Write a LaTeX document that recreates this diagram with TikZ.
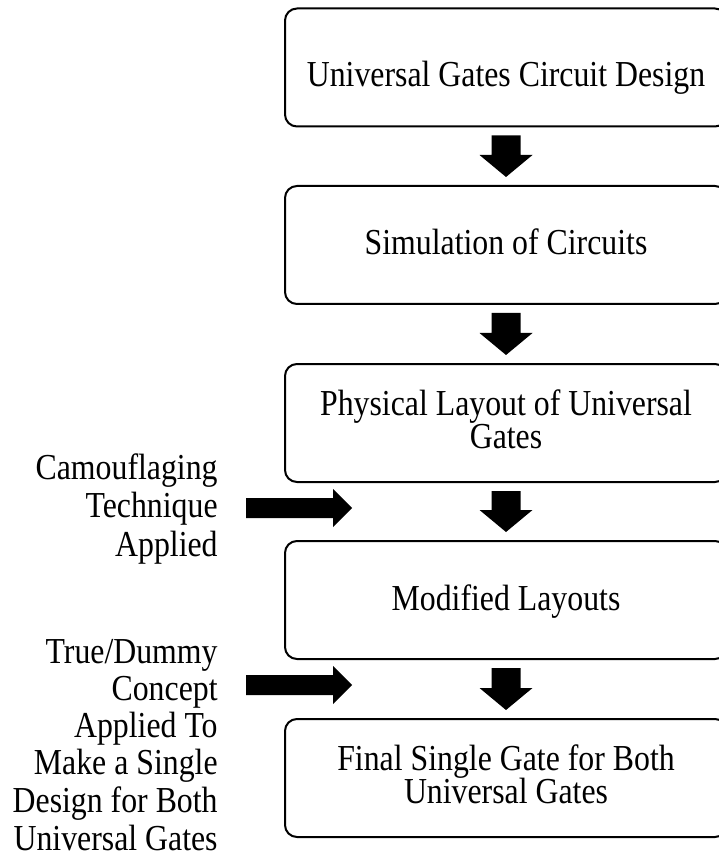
\documentclass[tikz,border=0pt]{standalone}
\usepackage{fontspec}
\usepackage{graphicx}
\setmainfont{Liberation Serif}
\usetikzlibrary{calc}
\newcommand{\blkdown}[2]{%
  \fill[black] ($(#1.south)+(-14.5,8)$) -- ($(#1.south)+(14.5,8)$)
    -- ($(#2.north)+(14.5,-30)$) -- ($(#2.north)+(26.5,-30)$)
    -- ($(#2.north)+(0,-8)$) -- ($(#2.north)+(-26.5,-30)$)
    -- ($(#2.north)+(-14.5,-30)$) -- cycle;}
\newcommand{\blkright}[2]{%
  \fill[black] ($(#1)+(0,-10)$) -- ($(#2)+(-19,-10)$) -- ($(#2)+(-19,-19)$)
    -- (#2) -- ($(#2)+(-19,19)$) -- ($(#2)+(-19,10)$) -- ($(#1)+(0,10)$) -- cycle;}
\newcommand{\tall}[1]{\scalebox{1}[1.15]{#1}}
\begin{document}
\begin{tikzpicture}[x=0.5pt,y=-0.5pt,
  box/.style={draw, line width=1pt, rounded corners=6pt, minimum width=221pt,
    minimum height=59pt, inner sep=0pt},
  boxtext/.style={font=\fontsize{15.9pt}{16.5pt}\selectfont, anchor=base, inner sep=0pt},
  sidetext/.style={font=\fontsize{15.9pt}{18.8pt}\selectfont, anchor=base east, inner sep=0pt}]
\useasboundingbox (0,0) rectangle (718,865);
% boxes
\node[box] (b1) at (506,67.5) {};
\node[box] (b2) at (506,245) {};
\node[box] (b3) at (506,423) {};
\node[box] (b4) at (506,600) {};
\node[box] (b5) at (506,778) {};
% box texts
\node[boxtext] (t1) at (506,87) {\tall{Universal Gates Circuit Design}};
\node[boxtext] (t2) at (506,255) {\tall{Simulation of Circuits}};
\node[boxtext] (t3a) at (506,415) {\tall{Physical Layout of Universal}};
\node[boxtext] (t3b) at (506,448) {\tall{Gates}};
\node[boxtext] (t4) at (506,610) {\tall{Modified Layouts}};
\node[boxtext] (t5a) at (506,770) {\tall{Final Single Gate for Both}};
\node[boxtext] (t5b) at (506,803) {\tall{Universal Gates}};
% side texts
\node[sidetext] (s1a) at (218,479) {\tall{Camouflaging}};
\node[sidetext] (s1b) at (218,517) {\tall{Technique}};
\node[sidetext] (s1c) at (218,556) {\tall{Applied}};
\node[sidetext] (s2a) at (218,663) {\tall{True/Dummy}};
\node[sidetext] (s2b) at (218,700) {\tall{Concept}};
\node[sidetext] (s2c) at (218,737) {\tall{Applied To}};
\node[sidetext] (s2d) at (218,774) {\tall{Make a Single}};
\node[sidetext] (s2e) at (218,812) {\tall{Design for Both}};
\node[sidetext] (s2f) at (218,850) {\tall{Universal Gates}};
% down arrows
\blkdown{b1}{b2}
\blkdown{b2}{b3}
\blkdown{b3}{b4}
\blkdown{b4}{b5}
% side arrows
\coordinate (h1a) at (246,508);
\coordinate (h1b) at (352,508);
\coordinate (h2a) at (246,685);
\coordinate (h2b) at (352,685);
\blkright{h1a}{h1b}
\blkright{h2a}{h2b}
\end{tikzpicture}
\end{document}
